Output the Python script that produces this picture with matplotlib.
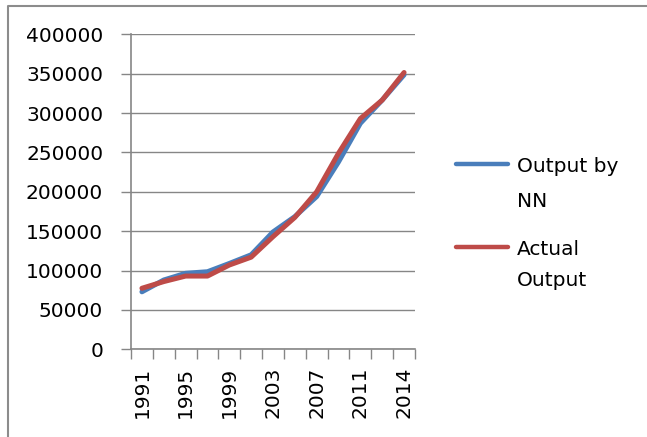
import matplotlib.pyplot as plt
from matplotlib.lines import Line2D

# Data
years = ["1991", "1993", "1995", "1997", "1999", "2001", "2003",
         "2005", "2007", "2009", "2011", "2013", "2014"]
nn_output = [73000, 88000, 96500, 98500, 109000, 120000, 149000,
             168500, 194000, 238000, 287000, 316500, 348500]
actual_output = [77500, 86000, 93000, 93000, 107000, 117000, 143000,
                 167500, 200000, 249000, 293000, 316500, 351500]

BLUE = "#4A7EBB"
RED = "#BE4B48"
GRID = "#868686"
FS = 14.5

plt.rcParams['font.family'] = ['DejaVu Sans']

fig = plt.figure(figsize=(6.47, 4.37), dpi=100)
ax = fig.add_axes([0.2025, 0.2007, 0.4389, 0.7208])

x = list(range(len(years)))
ax.plot(x, nn_output, color=BLUE, lw=3.6, solid_capstyle='round',
        solid_joinstyle='round', label="Output by\nNN")
ax.plot(x, actual_output, color=RED, lw=3.6, solid_capstyle='round',
        solid_joinstyle='round', label="Actual\nOutput")

ax.set_xlim(-0.5, len(years) - 0.5)
ax.set_ylim(0, 400000)
ax.set_yticks(range(0, 400001, 50000))
ax.yaxis.grid(True, color=GRID, lw=1)
ax.set_axisbelow(True)

# category boundaries as tick marks, labels on every other category
ax.set_xticks([i - 0.5 for i in range(len(years) + 1)])
ax.set_xticklabels([])
ax.set_xticks(x[::2], minor=True)
ax.set_xticklabels(years[::2], minor=True, rotation=90, fontsize=FS)
ax.tick_params(axis='x', which='major', length=7, color=GRID, width=1)
ax.tick_params(axis='x', which='minor', length=0, pad=12.5)
ax.tick_params(axis='y', length=7, color=GRID, width=1, labelsize=FS, pad=13)

for side in ['top', 'right']:
    ax.spines[side].set_visible(False)
for side in ['left', 'bottom']:
    ax.spines[side].set_color(GRID)
    ax.spines[side].set_linewidth(1.2)

# legend drawn to the right like the spreadsheet one
legend_items = [(BLUE, "Output by", "NN", 0.6247, 0.618, 0.538),
                (RED, "Actual", "Output", 0.435, 0.430, 0.357)]
for color, line1, line2, yl, y1, y2 in legend_items:
    fig.add_artist(Line2D([0.705, 0.785], [yl, yl], color=color, lw=3.2,
                          solid_capstyle='round', transform=fig.transFigure))
    fig.text(0.799, y1, line1, fontsize=FS, va='center', ha='left')
    fig.text(0.799, y2, line2, fontsize=FS, va='center', ha='left')

# outer frame
fig.add_artist(Line2D([0.013, 0.013, 1.0], [0.0, 0.986, 0.986], color="#8c8c8c",
                      lw=1.5, transform=fig.transFigure))

fig.savefig("out.png", dpi=100)
